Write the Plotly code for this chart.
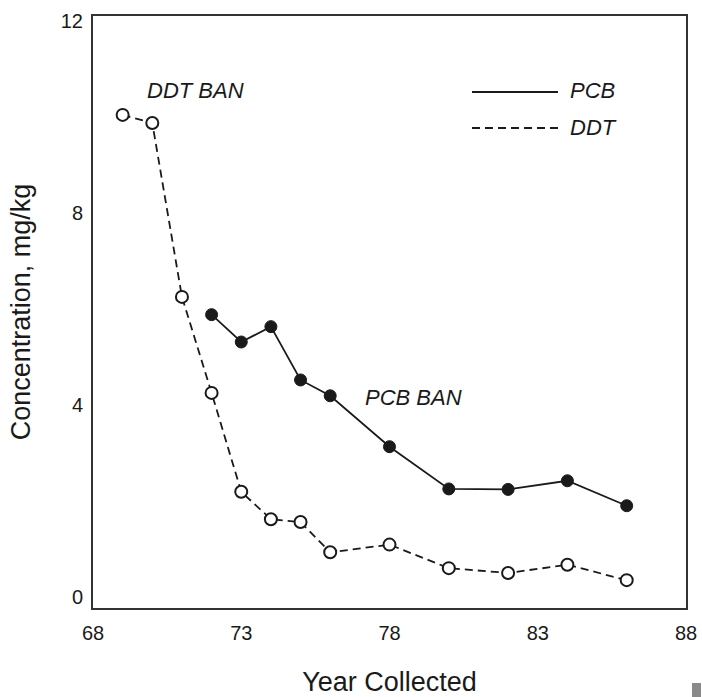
import plotly.graph_objects as go

ddt_years = [69, 70, 71, 72, 73, 74, 75, 76, 78, 80, 82, 84, 86]
ddt_conc = [10.04, 9.87, 6.25, 4.25, 2.19, 1.62, 1.56, 0.93, 1.09, 0.6, 0.5, 0.67, 0.35]

pcb_years = [72, 73, 74, 75, 76, 78, 80, 82, 84, 86]
pcb_conc = [5.88, 5.31, 5.63, 4.52, 4.19, 3.13, 2.25, 2.24, 2.42, 1.9]

x_ticks = [68, 73, 78, 83, 88]
y_ticks = [0, 4, 8, 12]

ink = "#1a1a1a"
font_family = "Liberation Sans, Arial, sans-serif"

fig = go.Figure()
fig.add_trace(go.Scatter(
    x=ddt_years, y=ddt_conc, mode="lines+markers", name="DDT",
    line=dict(color=ink, width=1.8, dash="8px,5px"),
    marker=dict(symbol="circle", size=12, color="white", line=dict(color=ink, width=2)),
    showlegend=False,
))
fig.add_trace(go.Scatter(
    x=pcb_years, y=pcb_conc, mode="lines+markers", name="PCB",
    line=dict(color=ink, width=1.8),
    marker=dict(symbol="circle", size=12, color=ink, line=dict(color=ink, width=1)),
    showlegend=False,
))

axis_common = dict(
    showgrid=False, zeroline=False, showline=True, mirror=True,
    linecolor="#333333", linewidth=2, ticks="", automargin=False,
)
tick_font = dict(family=font_family, size=20, color=ink)
title_font = dict(family=font_family, size=27, color=ink)

fig.update_xaxes(range=[68, 88], tickvals=x_ticks, ticktext=[str(v) for v in x_ticks],
                 tickfont=tick_font, ticklabelstandoff=6,
                 title=dict(text="Year Collected", font=title_font, standoff=32),
                 **axis_common)
fig.update_yaxes(range=[-0.23, 12.1], tickvals=y_ticks, ticktext=[str(v) for v in y_ticks],
                 tickfont=tick_font, ticklabelstandoff=4,
                 title=dict(text="Concentration, mg/kg", font=title_font, standoff=22),
                 **axis_common)

# legend drawn manually
shapes = [
    dict(type="line", xref="paper", yref="paper",
         x0=(472 - 93) / 593, x1=(558 - 93) / 593,
         y0=(608 - 92) / 592, y1=(608 - 92) / 592,
         line=dict(color=ink, width=1.8)),
    dict(type="line", xref="paper", yref="paper",
         x0=(472 - 93) / 593, x1=(558 - 93) / 593,
         y0=(608 - 128) / 592, y1=(608 - 128) / 592,
         line=dict(color=ink, width=1.8, dash="8px,5px")),
    # small grey scan mark in the bottom-right corner
    dict(type="rect", xref="paper", yref="paper",
         x0=(692 - 93) / 593, x1=(701 - 93) / 593,
         y0=(608 - 697) / 592, y1=(608 - 683) / 592,
         line=dict(width=0), fillcolor="#8a8a8a"),
]
fig.update_layout(shapes=shapes)

ann_font = dict(family=font_family, size=22, color=ink, style="italic")
annotations = [
    dict(xref="paper", yref="paper", x=(568 - 93) / 593, y=(608 - 91) / 592,
         text="PCB", showarrow=False, xanchor="left", yanchor="middle", font=ann_font),
    dict(xref="paper", yref="paper", x=(568 - 93) / 593, y=(608 - 128) / 592,
         text="DDT", showarrow=False, xanchor="left", yanchor="middle", font=ann_font),
    dict(x=69.75, y=10.55, text="DDT BAN", showarrow=False, xanchor="left", yanchor="middle", font=ann_font),
    dict(x=77.1, y=4.15, text="PCB BAN", showarrow=False, xanchor="left", yanchor="middle", font=ann_font),
]
fig.update_layout(annotations=annotations)

fig.update_layout(
    width=702, height=697,
    margin=dict(l=93, r=16, t=16, b=89),
    paper_bgcolor="white", plot_bgcolor="white",
)

fig.write_html("out.html")
